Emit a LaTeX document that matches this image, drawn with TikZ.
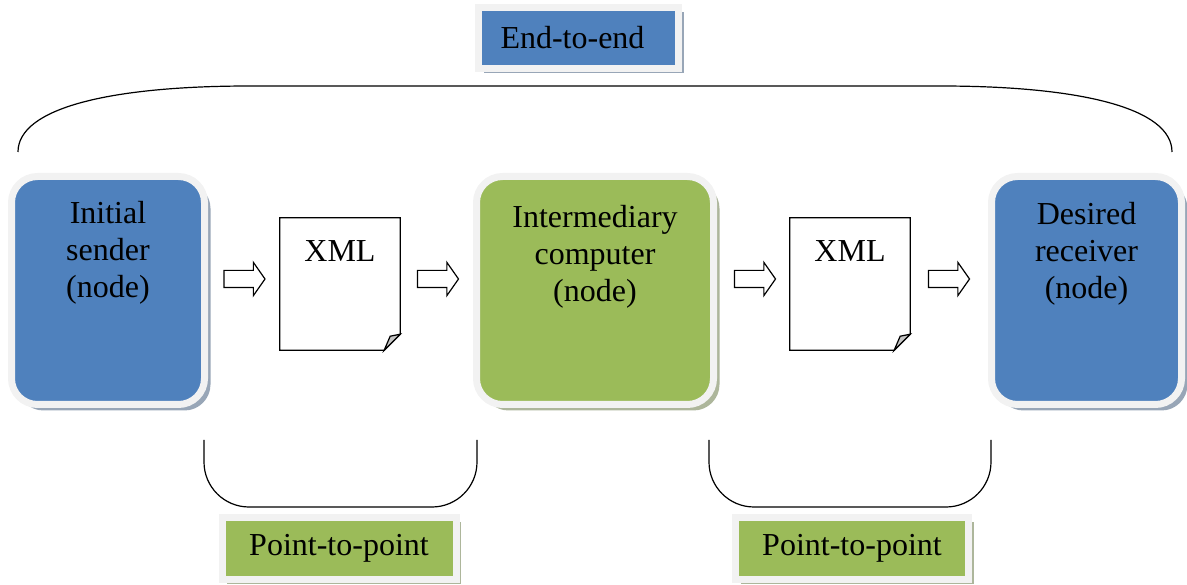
\documentclass[tikz,border=0pt]{standalone}
\usepackage{fontspec}
\setmainfont{Liberation Serif}
\usetikzlibrary{positioning,shadows,shapes.arrows}

\definecolor{hostblue}{HTML}{4F81BD}
\definecolor{hostgreen}{HTML}{9BBB59}
\definecolor{framegray}{HTML}{F2F2F2}

\tikzset{
  bigfont/.style={font=\fontsize{32}{37}\selectfont},
  hostbox/.style={rounded corners=26pt,draw=framegray,line width=7pt,fill=#1,
    drop shadow={shadow xshift=6pt,shadow yshift=-6pt,fill=#1!40!gray,opacity=0.7}},
  tagbox/.style={draw=framegray,line width=7pt,fill=#1,bigfont,inner sep=0pt,
    drop shadow={shadow xshift=5pt,shadow yshift=-5pt,fill=#1!40!gray,opacity=0.7}},
  hosttext/.style={bigfont,align=center,anchor=north,inner sep=0pt},
  xmlpage/.style={minimum width=120pt,minimum height=132pt,inner sep=0pt},
  pageline/.style={line width=1.2pt,line join=miter},
  blockarrow/.style={single arrow,draw,line width=1.2pt,fill=white,
    inner xsep=0pt,inner ysep=8pt,minimum height=41pt,
    single arrow head extend=8pt,single arrow tip angle=110},
  brace/.style={line width=1.2pt}
}

\begin{document}
\begin{tikzpicture}[x=1pt,y=-1pt]
\useasboundingbox (0,0) rectangle (1187,585);

%---------------------------------
% NODOS
%---------------------------------
\node[hostbox=hostblue,minimum width=193pt,minimum height=228pt] (init) at (108,290.5) {};
\node[hostbox=hostgreen,minimum width=237pt,minimum height=228pt] (inter) at (595,290.5) {};
\node[hostbox=hostblue,minimum width=190pt,minimum height=228pt] (dest) at (1086.5,290.5) {};

\node[hosttext,below=28pt] (initT) at (init.north) {Initial\\sender\\(node)};
\node[hosttext,below=32pt] (interT) at (inter.north) {Intermediary\\computer\\(node)};
\node[hosttext,below=29pt] (destT) at (dest.north) {Desired\\receiver\\(node)};

%---------------------------------
% DOCUMENTOS XML
%---------------------------------
\node[xmlpage] (xmlA) at (340,284) {};
\node[xmlpage] (xmlB) at (850,284) {};

\draw[pageline] (xmlA.north west) -- (xmlA.north east) -- ([yshift=16pt]xmlA.south east)
  -- ([xshift=-16pt]xmlA.south east) -- (xmlA.south west) -- cycle;
\filldraw[pageline,fill=black!22] ([yshift=16pt]xmlA.south east) -- ([xshift=-16pt]xmlA.south east)
  -- ([xshift=-10pt,yshift=14pt]xmlA.south east) -- cycle;

\draw[pageline] (xmlB.north west) -- (xmlB.north east) -- ([yshift=16pt]xmlB.south east)
  -- ([xshift=-16pt]xmlB.south east) -- (xmlB.south west) -- cycle;
\filldraw[pageline,fill=black!22] ([yshift=16pt]xmlB.south east) -- ([xshift=-16pt]xmlB.south east)
  -- ([xshift=-10pt,yshift=14pt]xmlB.south east) -- cycle;

\node[hosttext,below=23pt] (xmlAT) at (xmlA.north) {XML};
\node[hosttext,below=23pt] (xmlBT) at (xmlB.north) {XML};

%---------------------------------
% FLECHAS
%---------------------------------
\node[blockarrow] (arrA) at (241.5,279) {};
\node[blockarrow] (arrB) at (435,279) {};
\node[blockarrow] (arrC) at (752,279) {};
\node[blockarrow] (arrD) at (946,279) {};

%---------------------------------
% LLAVES Y ETIQUETAS
%---------------------------------
\draw[brace] (18,152) .. controls (18,108) and (110,86) .. (250,86) -- (940,86)
  .. controls (1080,86) and (1172,108) .. (1172,152);
\draw[brace,rounded corners=45pt] (204,440) -- (204,507) -- (477,507) -- (477,440);
\draw[brace,rounded corners=45pt] (709,440) -- (709,507) -- (991,507) -- (991,440);

\node[tagbox=hostblue,minimum width=200pt,minimum height=61pt] (endtoend) at (578.5,38) {End-to-end\hspace*{12pt}};
\node[tagbox=hostgreen,minimum width=234pt,minimum height=62pt] (ptpA) at (339,548) {Point-to-point};
\node[tagbox=hostgreen,minimum width=233pt,minimum height=62pt] (ptpB) at (852,548) {Point-to-point};

\end{tikzpicture}
\end{document}
